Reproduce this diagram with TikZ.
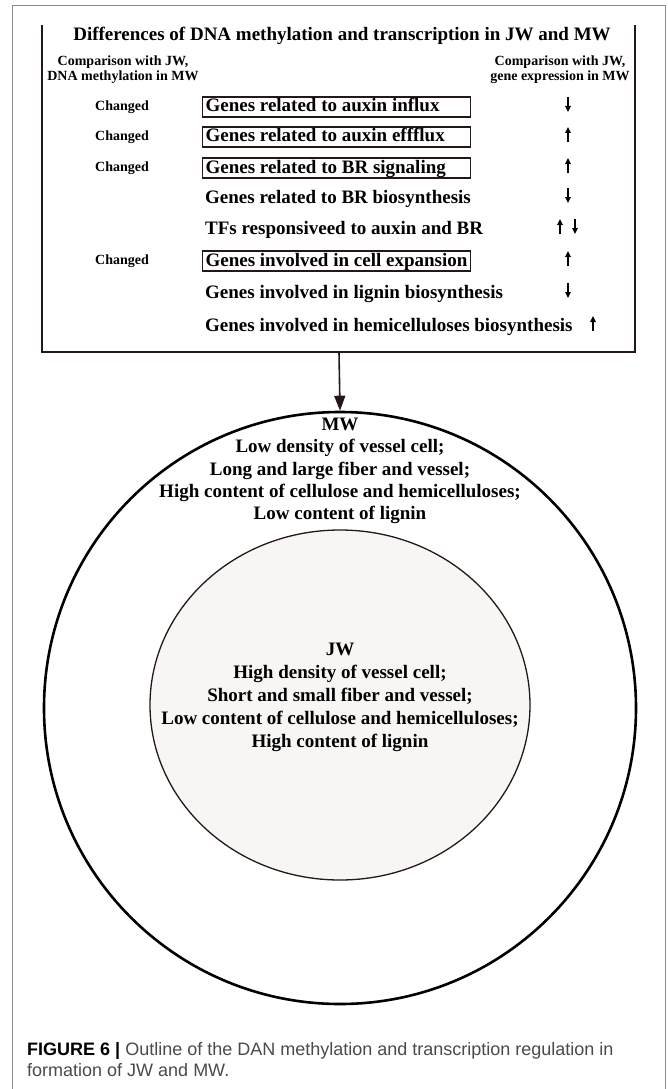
\documentclass[tikz,border=0pt]{standalone}
\usepackage{fontspec}
\setmainfont{Liberation Serif}
\newfontfamily\capfont{Liberation Sans}
\usepackage{tikz}
\usetikzlibrary{arrows.meta,shapes.geometric}

\definecolor{inkbrown}{HTML}{231815}
\definecolor{jwfill}{HTML}{F8F6F4}
\definecolor{framegray}{HTML}{8A8A8A}
\definecolor{captext}{HTML}{4A4A4A}

\newcommand{\rowbox}[1]{\makebox[262pt][l]{#1}}

\tikzset{
  genetext/.style={anchor=west, inner xsep=3pt, inner ysep=1pt, text height=14pt, text depth=4pt,
    font=\fontsize{19}{22}\selectfont\bfseries},
  genebox/.style={genetext, draw=inkbrown, line width=1.1pt},
  chg/.style={font=\fontsize{14}{15}\selectfont\bfseries},
  head/.style={align=center, font=\fontsize{14}{15}\selectfont\bfseries},
  circtext/.style={align=center, font=\fontsize{19}{22.3}\selectfont\bfseries},
  captxt/.style={anchor=base west, inner sep=0, text=captext, font=\capfont\fontsize{18}{20}\selectfont},
  sarrow/.style={line width=1.3pt, -{Triangle[width=5.5pt,length=6pt]}},
}

\begin{document}
\begin{tikzpicture}[x=1pt,y=-1pt]
	\useasboundingbox (0,0) rectangle (667,1089);
	\draw[framegray, line width=1pt] (12,1095) -- (12,6) -- (665,6) -- (665,1095);
	\draw[inkbrown, line width=2.6pt] (42,25) -- (42,352) -- (635,352) -- (635,25);
	\node[font=\fontsize{19}{22}\selectfont\bfseries] (title) at (342,36) {Differences of DNA methylation and transcription in JW and MW};
	\node[head] (headl) at (123,70) {Comparison with JW,\\DNA methylation in MW};
	\node[head] (headr) at (560,70) {Comparison with JW,\\gene expression in MW};
	\node[chg] (c1) at (122,107) {Changed};
	\node[chg] (c2) at (122,137) {Changed};
	\node[chg] (c3) at (122,168) {Changed};
	\node[chg] (c6) at (122,261) {Changed};
	\node[genebox] (r1) at (202,107) {\rowbox{Genes related to auxin influx}};
	\node[genebox] (r2) at (202,137) {\rowbox{Genes related to auxin effflux}};
	\node[genebox] (r3) at (202,168) {\rowbox{Genes related to BR signaling}};
	\node[genetext] (r4) at (202,198) {Genes related to BR biosynthesis};
	\node[genetext] (r5) at (202,229) {TFs responsiveed to auxin and BR};
	\node[genebox] (r6) at (202,261) {\rowbox{Genes involved in cell expansion}};
	\node[genetext] (r7) at (202,293) {Genes involved in lignin biosynthesis};
	\node[genetext] (r8) at (202,326) {Genes involved in hemicelluloses biosynthesis};
	\draw[sarrow] (568,97) -- (568,112);
	\draw[sarrow] (568,142) -- (568,127);
	\draw[sarrow] (568,173) -- (568,158);
	\draw[sarrow] (568,188) -- (568,203);
	\draw[sarrow] (560,234) -- (560,219);
	\draw[sarrow] (575,219) -- (575,234);
	\draw[sarrow] (568,266) -- (568,251);
	\draw[sarrow] (568,283) -- (568,298);
	\draw[sarrow] (593,331) -- (593,316);
	\node[circle, draw=black, line width=2.6pt, minimum size=592pt, inner sep=0] (mw) at (340,708) {};
	\node[ellipse, draw=inkbrown, fill=jwfill, line width=1.3pt, minimum width=380pt, minimum height=350pt, inner sep=0] (jw) at (340,705) {};
	\coordinate (boxbot) at (339,352);
	\draw[inkbrown, line width=1.6pt, -{Triangle[width=11pt,length=15pt]}] (boxbot) -- (mw.north);
	\node[circtext] (mwtext) at (340,471) {MW\\Low density of vessel cell;\\Long and large fiber and vessel;\\High content of cellulose and hemicelluloses;\\Low content of lignin};
	\node[circtext, font=\fontsize{19}{23}\selectfont\bfseries] (jwtext) at (340,697) {JW\\High density of vessel cell;\\Short and small fiber and vessel;\\Low content of cellulose and hemicelluloses;\\High content of lignin};
	\node[captxt] (cap1) at (27,1055) {\textbf{\color{black}FIGURE 6 |} Outline of the DAN methylation and transcription regulation in};
	\node[captxt] (cap2) at (27,1076) {formation of JW and MW.};
\end{tikzpicture}
\end{document}
